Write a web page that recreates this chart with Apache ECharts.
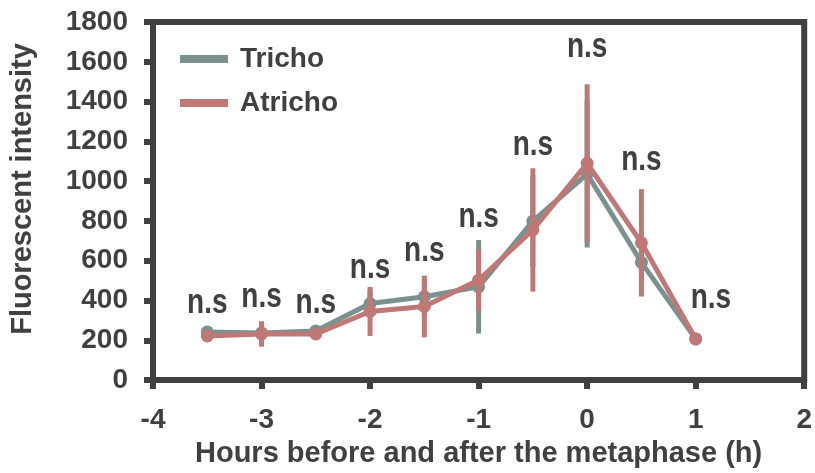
<!DOCTYPE html>
<html>
<head>
<meta charset="utf-8">
<script src="https://cdn.jsdelivr.net/npm/echarts@6/dist/echarts.min.js"></script>
<style>
html,body{margin:0;padding:0;background:#fff;}
#chart{width:815px;height:473px;}
</style>
</head>
<body>
<div id="chart"></div>
<script>
// ---- data ----
const hours = [-3.5, -3, -2.5, -2, -1.5, -1, -0.5, 0, 0.5, 1];
const trichoMean = [242, 237, 247, 385, 419, 469, 799, 1036, 592, 207];
const trichoErr  = [15, 50, 15, 70, 90, 235, 230, 370, 150, 15];
const atrichoMean = [222, 232, 232, 345, 370, 503, 755, 1090, 690, 207];
const atrichoErr  = [15, 64, 15, 123, 155, 155, 310, 397, 270, 15];
const nsX = [-3.5, -3, -2.5, -2, -1.5, -1, -0.5, 0, 0.5, 1.14];
const nsY = [385, 415, 385, 562, 646, 819, 1179, 1672, 1105, 410];
const nsText = 'n.s';
const xTicks = {min: -4, max: 2, interval: 1};
const yTicks = {min: 0, max: 1800, interval: 200};

const seriesNames = ['Tricho', 'Atricho'];
const colors = ['#7b918e', '#c07877'];
const ink = '#404040';
const font = '"Liberation Sans", Arial, Helvetica, sans-serif';

function pairs(xs, ys) { return xs.map((x, i) => [x, ys[i]]); }
function errData(xs, m, e) { return xs.map((x, i) => [x, m[i] - e[i], m[i] + e[i]]); }

function errSeries(name, data, color, z) {
  return {
    type: 'custom', name: name + ' err', z: z, silent: true,
    data: data,
    renderItem: function (params, api) {
      const p1 = api.coord([api.value(0), api.value(1)]);
      const p2 = api.coord([api.value(0), api.value(2)]);
      return { type: 'line', shape: {x1: p1[0], y1: p1[1], x2: p2[0], y2: p2[1]},
               style: {stroke: color, lineWidth: 5} };
    }
  };
}
function lineSeries(name, data, color, z) {
  return {
    type: 'line', name: name, z: z, data: data,
    symbol: 'circle', symbolSize: 13, silent: true,
    lineStyle: {color: color, width: 5},
    itemStyle: {color: color},
    emphasis: {disabled: true}
  };
}

const chart = echarts.init(document.getElementById('chart'), null, {renderer: 'canvas'});
chart.setOption({
  animation: false,
  textStyle: {fontFamily: font},
  grid: {left: 153, right: 10, top: 22, bottom: 86, show: true, borderColor: ink, borderWidth: 6, backgroundColor: 'transparent'},
  legend: {
    data: seriesNames, orient: 'vertical', left: 180, top: 44, padding: 0,
    icon: 'rect', itemWidth: 48, itemHeight: 8, itemGap: 14,
    textStyle: {color: ink, fontSize: 28, fontWeight: 'bold', fontFamily: font, lineHeight: 30, padding: [0, 0, 0, 7]},
    selectedMode: false
  },
  xAxis: {
    type: 'value', min: xTicks.min, max: xTicks.max, interval: xTicks.interval,
    name: 'Hours before and after the metaphase (h)', nameLocation: 'middle', nameGap: 52,
    nameTextStyle: {color: ink, fontSize: 29, fontWeight: 'bold', fontFamily: font},
    axisLine: {show: true, onZero: false, lineStyle: {color: ink, width: 6}},
    axisTick: {show: true, length: 9, lineStyle: {color: ink, width: 6}},
    axisLabel: {color: ink, fontSize: 28, fontWeight: 'bold', fontFamily: font, margin: 26,
                formatter: function (v) { return String(v); }},
    splitLine: {show: false}
  },
  yAxis: {
    type: 'value', min: yTicks.min, max: yTicks.max, interval: yTicks.interval,
    axisLine: {show: true, onZero: false, lineStyle: {color: ink, width: 6}},
    axisTick: {show: true, length: 9, lineStyle: {color: ink, width: 6}},
    axisLabel: {color: ink, fontSize: 28, fontWeight: 'bold', fontFamily: font, margin: 25,
                formatter: function (v) { return String(v); }},
    splitLine: {show: false}
  },
  graphic: [{
    type: 'text', x: 23, y: 189, rotation: Math.PI / 2,
    style: {text: 'Fluorescent intensity', fill: ink, font: 'bold 29px ' + font, align: 'center', verticalAlign: 'middle'}
  }],
  series: [
    errSeries(seriesNames[0], errData(hours, trichoMean, trichoErr), colors[0], 1),
    lineSeries(seriesNames[0], pairs(hours, trichoMean), colors[0], 2),
    errSeries(seriesNames[1], errData(hours, atrichoMean, atrichoErr), colors[1], 3),
    lineSeries(seriesNames[1], pairs(hours, atrichoMean), colors[1], 4),
    {
      type: 'custom', name: 'ns', z: 5, silent: true,
      data: pairs(nsX, nsY),
      renderItem: function (params, api) {
        const p = api.coord([api.value(0), api.value(1)]);
        return { type: 'text', x: p[0], y: p[1], scaleY: 1.25,
                 style: {text: nsText, x: 0, y: 0, align: 'center', verticalAlign: 'middle',
                         fill: ink, font: 'bold 28px ' + font} };
      }
    }
  ]
});
</script>
</body>
</html>
